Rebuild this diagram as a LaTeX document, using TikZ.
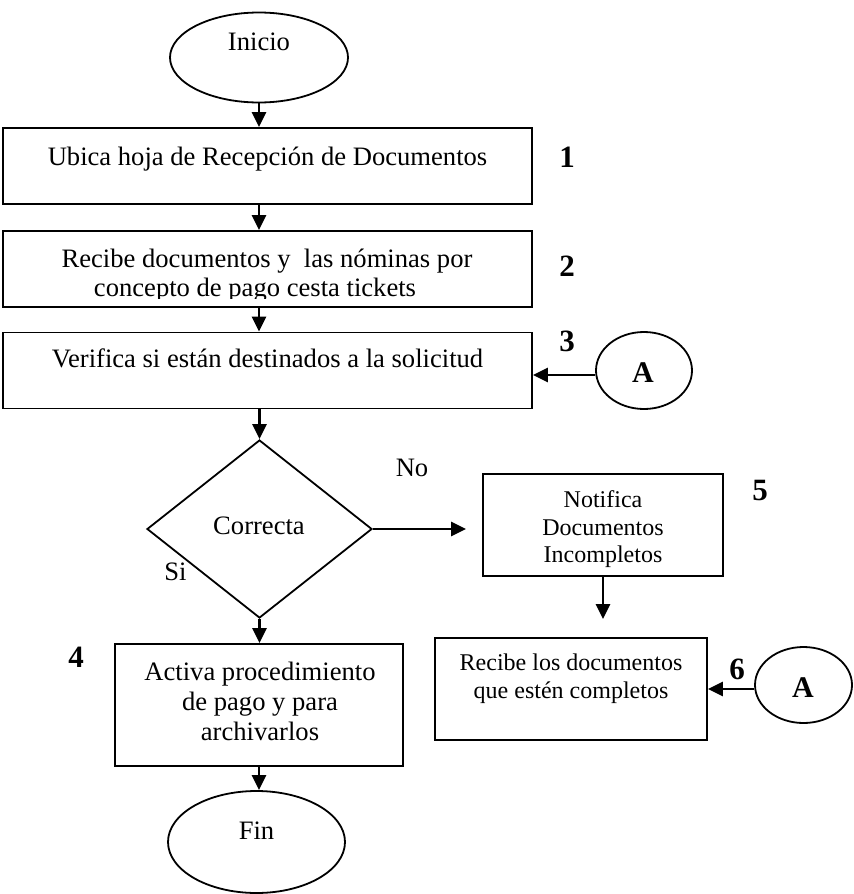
\documentclass[tikz,border=0pt]{standalone}
\usepackage{fontspec}
\setmainfont{Liberation Serif}
\usetikzlibrary{shapes.geometric,arrows.meta}
\begin{document}
\begin{tikzpicture}[x=0.5pt,y=-0.5pt,
  line width=0.9pt,
  box/.style={draw,rectangle,inner sep=0pt},
  oval/.style={draw,ellipse,inner sep=0pt},
  decision/.style={draw,diamond,inner sep=0pt},
  big/.style={font=\fontsize{13.3}{15}\selectfont,inner sep=0pt,anchor=base},
  small/.style={font=\fontsize{12}{14}\selectfont,inner sep=0pt,anchor=base},
  stepnum/.style={font=\fontsize{15.5}{17}\selectfont\bfseries,inner sep=0pt,anchor=base},
  conn/.style={font=\fontsize{15}{17}\selectfont\bfseries,inner sep=0pt,anchor=base},
  arr/.style={line width=1.3pt,-{Triangle[length=7.5pt,width=7pt]}},
]
\useasboundingbox (0,0) rectangle (853,894);

% start
\node[oval,minimum width=89pt,minimum height=45pt] (inicio) at (259,57.5) {};
\node[big] (tinicio) at (259,50) {Inicio};

% step 1
\node[box,minimum width=264.5pt,minimum height=38pt] (b1) at (267.5,166) {};
\node[big] (t1) at (267.5,165) {Ubica hoja de Recepción de Documentos};
\node[stepnum] (n1) at (567,167) {1};

% step 2 (text cut off by the lower edge of its box)
\node[box,minimum width=264.5pt,minimum height=38pt] (b2) at (267.5,269) {};
\begin{scope}
  \clip (3,231) rectangle (532,298);
  \node[big] (t2a) at (267,267) {Recibe documentos y\ \ las nóminas por};
  \node[big] (t2b) at (255,296) {concepto de pago cesta tickets};
\end{scope}
\node[stepnum] (n2) at (567,276) {2};

% step 3
\node[box,minimum width=264.5pt,minimum height=38pt] (b3) at (267.5,370.5) {};
\node[big] (t3) at (267.5,367) {Verifica si están destinados a la solicitud};
\node[stepnum] (n3) at (567,351) {3};
\node[oval,minimum width=48pt,minimum height=38.5pt] (a1) at (644,370.5) {};
\node[conn] (ta1) at (643,382) {A};

% decision
\node[decision,minimum width=112.5pt,minimum height=89pt] (dia) at (259.5,529) {};
\node[big] (tcor) at (259,534) {Correcta};
\node[big] (tsi) at (175.5,580) {Si};
\node[big] (tno) at (412,476) {No};

% step 4
\node[box,minimum width=144pt,minimum height=61pt] (act) at (259,705) {};
\node[big] (t4a) at (260,680) {Activa procedimiento};
\node[big] (t4b) at (260,710) {de pago y para};
\node[big] (t4c) at (260,740) {archivarlos};
\node[stepnum] (n4) at (76,667) {4};

% end
\node[oval,minimum width=88.5pt,minimum height=51pt] (fin) at (256.5,842) {};
\node[big] (tfin) at (256.5,839) {Fin};

% step 5
\node[box,minimum width=120pt,minimum height=51pt] (not) at (603,525) {};
\node[small] (t5a) at (603,507) {Notifica};
\node[small] (t5b) at (603,535) {Documentos};
\node[small] (t5c) at (603,562) {Incompletos};
\node[stepnum] (n5) at (760,500) {5};

% step 6
\node[box,minimum width=136pt,minimum height=51pt] (rec) at (571,689) {};
\node[small] (t6a) at (571,670) {Recibe los documentos};
\node[small] (t6b) at (571,698) {que estén completos};
\node[stepnum] (n6) at (737,679) {6};
\node[oval,minimum width=48.5pt,minimum height=38pt] (a2) at (803.5,685) {};
\node[conn] (ta2) at (803,697) {A};

% connectors
\draw[arr] (inicio.south) -- (inicio.south |- b1.north);
\draw[arr] (b1.south -| inicio.south) -- (b2.north -| inicio.south);
\draw[arr] (b2.south -| inicio.south) -- (b3.north -| inicio.south);
\draw[arr] (b3.south -| dia.north) -- (dia.north);
\draw[arr] (a1.west |- 0,375) -- (b3.east |- 0,375);
\draw[arr,shorten >=8pt] (dia.east) -- (not.west |- dia.east);
\draw[arr] (dia.south) -- (dia.south |- act.north);
\draw[arr] (act.south) -- (act.south |- fin.north);
\draw[arr,shorten >=9pt] (not.south) -- (not.south |- rec.north);
\draw[arr] (a2.west |- 0,689) -- (rec.east |- 0,689);
\end{tikzpicture}
\end{document}
